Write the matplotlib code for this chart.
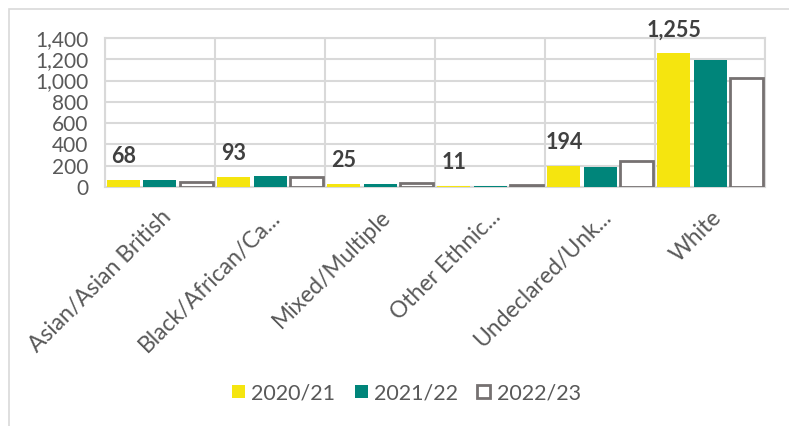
import numpy as np
import matplotlib.pyplot as plt
from matplotlib.patches import Rectangle

# Ethnicity counts by academic year
categories = ["Asian/Asian British", "Black/African/Ca...", "Mixed/Multiple",
              "Other Ethnic...", "Undeclared/Unk...", "White"]
y2020 = [68, 93, 25, 11, 194, 1255]
y2021 = [62, 100, 30, 12, 190, 1196]
y2022 = [48, 92, 38, 18, 242, 1021]
labels_2020 = ["68", "93", "25", "11", "194", "1,255"]

plt.rcParams['font.family'] = ['Lato', 'DejaVu Sans']

fig = plt.figure(figsize=(7.89, 4.26), dpi=100)
ax = fig.add_axes([0.133, 0.561, 0.837, 0.350])

x = np.arange(len(categories)) + 0.5
w = 0.30
ax.bar(x - 0.33, y2020, w, color="#F5E50F", label="2020/21", zorder=3)
ax.bar(x, y2021, w, color="#00857A", label="2021/22", zorder=3)
ax.bar(x + 0.33, y2022, w, facecolor="white", edgecolor="#767171",
       linewidth=2, label="2022/23", zorder=3)

# data labels on first series, centred over the yellow bar
for xi, v, t in zip(x - 0.33, y2020, labels_2020):
    ax.annotate(t, (xi, v), xytext=(0, 17), textcoords="offset points",
                ha="center", va="center", fontsize=15.5, fontweight="bold",
                color="#404040", annotation_clip=False)

ax.set_xlim(0, len(categories))
ax.set_ylim(0, 1400)
ax.set_yticks(range(0, 1401, 200))
ax.set_yticklabels([f"{v:,}" for v in range(0, 1401, 200)])
ax.set_xticks(np.arange(len(categories) + 1), minor=False)
ax.set_xticklabels([])
ax.set_xticks(x, minor=True)
ax.set_xticklabels(categories, minor=True, rotation=45, ha="right", va="top",
                   rotation_mode="anchor", fontsize=16.5, color="#595959")
ax.tick_params(axis="x", which="both", length=0, pad=14)
ax.tick_params(axis="y", length=0, labelsize=15, labelcolor="#595959", pad=12)
ax.grid(True, which="major", color="#D9D9D9", linewidth=1.5, zorder=0)
for s in ax.spines.values():
    s.set_color("#D9D9D9")
    s.set_linewidth(1.5)

leg = fig.legend(loc="center", bbox_to_anchor=(0.515, 0.077), ncol=3, frameon=False,
                 fontsize=15.5, handlelength=0.6, handleheight=0.6,
                 handletextpad=0.3, columnspacing=0.9)
for t in leg.get_texts():
    t.set_color("#595959")

# outer chart border (top and left visible)
fig.patches.append(Rectangle((9 / 789, -0.1), 1.2, 1.1 - 9 / 426,
                             transform=fig.transFigure, fill=False,
                             edgecolor="#D9D9D9", linewidth=1.2))

fig.savefig("out.png", dpi=100)
